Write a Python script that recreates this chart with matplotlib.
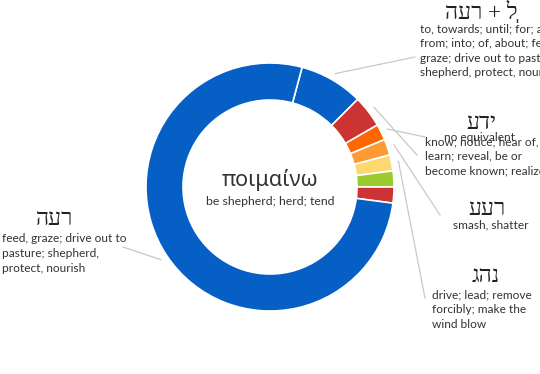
import matplotlib
matplotlib.use("Agg")
import matplotlib.pyplot as plt
import numpy as np

# slices, clockwise from the top (first slice starts 15 deg past 12 o'clock)
counts = [4, 2, 1, 1, 1, 1, 1, 37]
colors = ['#065fc5', '#cc3333', '#fe6602', '#fd9a35', '#fdd76f', '#9acb2f', '#cc3333', '#065fc5']
hebrew = ['הער + לְ', 'עדי', None, 'עער', 'גהנ', None, None, 'הער']   # visual order (no bidi in mpl)
glosses = [
    "to, towards; until; for; at;\nfrom; into; of, about; feed,\ngraze; drive out to pasture;\nshepherd, protect, nourish",
    "know; notice; hear of,\nlearn; reveal, be or\nbecome known; realize",
    "no equivalent",
    "smash, shatter",
    "drive; lead; remove\nforcibly; make the\nwind blow",
    None, None,
    "feed, graze; drive out to\npasture; shepherd,\nprotect, nourish",
]
center_word = "ποιμαίνω"
center_gloss = "be shepherd; herd; tend"

W, H = 540, 374
cx, cy, R, ring = 270, 187, 124, 37

def Y(y):
    return H - y

plt.rcParams['font.family'] = ['Lato', 'Noto Sans', 'DejaVu Sans']
fig = plt.figure(figsize=(5.4, 3.74), dpi=100)
ax = fig.add_axes([0, 0, 1, 1])
ax.pie(counts, colors=colors, center=(cx, Y(cy)), radius=R, startangle=75,
       counterclock=False, wedgeprops=dict(width=ring, edgecolor='white', linewidth=1.2))
ax.set_xlim(0, W)
ax.set_ylim(0, H)
ax.set_aspect('equal')
ax.axis('off')

ax.text(cx, Y(180), center_word, ha='center', va='center', fontsize=15.5,
        family=['Noto Sans', 'DejaVu Sans'], color='#333333')
ax.text(cx, Y(201), center_gloss, ha='center', va='center', fontsize=8.8, color='#333333')

# label layout: connector end, hebrew centre, gloss left/centre and top
layout = {
    0: dict(end=(415, 57), heb=(481, 12), txt=(420, 23), ha='left'),
    1: dict(end=(417, 155), heb=(481, 123), txt=(425, 136), ha='left'),
    2: dict(end=(425, 137), heb=None, txt=(479, 132), ha='center'),
    3: dict(end=(440, 215), heb=(487, 209), txt=(491, 219), ha='center'),
    4: dict(end=(425, 298), heb=(486, 276), txt=(432, 289), ha='left'),
    7: dict(end=(123, 247), heb=(55, 219), txt=(2, 233), ha='left'),
}

edges = np.cumsum([0] + counts) / sum(counts) * 360.0
for i, lay in layout.items():
    mid = np.radians(15 + (edges[i] + edges[i + 1]) / 2)
    x0 = cx + (R + 7) * np.sin(mid)
    y0 = cy - (R + 7) * np.cos(mid)
    ex, ey = lay['end']
    ax.plot([x0, ex], [Y(y0), Y(ey)], color='#c8c8c8', lw=0.9, zorder=1)
    if lay['heb'] is not None and hebrew[i]:
        hx, hy = lay['heb']
        ax.text(hx, Y(hy), hebrew[i], ha='center', va='center', fontsize=16.5,
                family=['Liberation Serif', 'DejaVu Sans'], color='#222222')
    tx, ty = lay['txt']
    ax.text(tx, Y(ty), glosses[i], ha=lay['ha'], va='top', fontsize=8.6,
            color='#333333', linespacing=1.42, multialignment=lay['ha'])

fig.savefig('out.png', dpi=100)
